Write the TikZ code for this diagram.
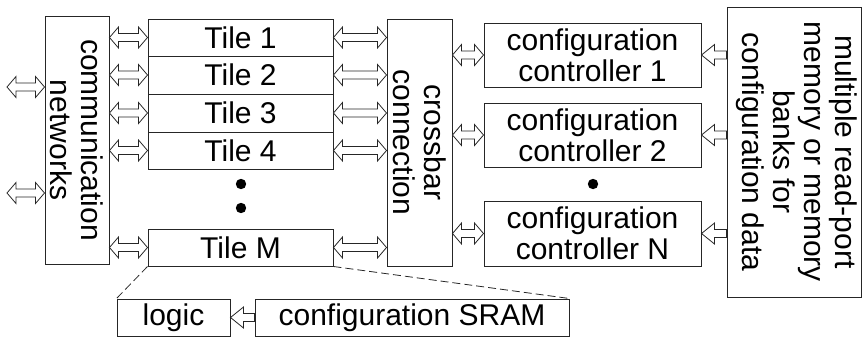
\documentclass[tikz,border=0pt]{standalone}
\usepackage{fontspec}
\setmainfont{Liberation Sans}
\usetikzlibrary{calc}
\tikzset{
  box/.style={draw=black!85, line width=1pt, rectangle, inner sep=0pt, fill=white},
  txt/.style={inner sep=0pt, align=center, font=\fontsize{30}{31}\selectfont},
  arr/.style={draw=black!85, line width=0.8pt, fill=white, line join=miter},
  dash/.style={}
}
\newcommand\dblar[2]{\path[arr] let \p1=(#1), \p2=(#2) in
 (\x1,\y1) -- (\x1+9pt,\y1+10.5pt) -- (\x1+9pt,\y1+4pt) -- (\x2-9pt,\y1+4pt) -- (\x2-9pt,\y1+10.5pt) -- (\x2,\y1) -- (\x2-9pt,\y1-10.5pt) -- (\x2-9pt,\y1-4pt) -- (\x1+9pt,\y1-4pt) -- (\x1+9pt,\y1-10.5pt) -- cycle;}
\newcommand\sglar[2]{\path[arr] let \p1=(#1), \p2=(#2) in
 (\x2,\y1) -- (\x2+13pt,\y1+10.5pt) -- (\x2+13pt,\y1+4pt) -- (\x1,\y1+4pt) -- (\x1,\y1-4pt) -- (\x2+13pt,\y1-4pt) -- (\x2+13pt,\y1-10.5pt) -- cycle;}
\begin{document}
\begin{tikzpicture}[x=1pt,y=-1pt]
\useasboundingbox (0,0) rectangle (862,338);
% communication networks
\node[box, minimum width=64pt, minimum height=248pt] (comm) at (77,140) {};
\node[txt, rotate=-90] (commt) at (comm.center) {communication\\networks};
% tiles
\node[box, minimum width=185pt, minimum height=37pt] (t1) at (240.5,37.5) {};
\node[box, minimum width=185pt, minimum height=38pt] (t2) at (240.5,75) {};
\node[box, minimum width=185pt, minimum height=38pt] (t3) at (240.5,113) {};
\node[box, minimum width=185pt, minimum height=37pt] (t4) at (240.5,150.5) {};
\node[box, minimum width=185pt, minimum height=37pt] (tm) at (240.5,247.5) {};
\node[txt] (t1t) at (t1.center) {Tile 1};
\node[txt] (t2t) at (t2.center) {Tile 2};
\node[txt] (t3t) at (t3.center) {Tile 3};
\node[txt] (t4t) at (t4.center) {Tile 4};
\node[txt] (tmt) at (tm.center) {Tile M};
\fill (241,184) circle (5.2);
\fill (241,208) circle (5.2);
% crossbar
\node[box, minimum width=65pt, minimum height=247pt] (xb) at (419.5,142.5) {};
\node[txt, rotate=-90] (xbt) at (xb.center) {crossbar\\connection};
% configuration controllers
\node[box, txt, draw=black!85, line width=1pt, minimum width=217pt, minimum height=64pt] (cc1) at (592.5,55) {configuration\\controller 1};
\node[box, txt, draw=black!85, line width=1pt, minimum width=217pt, minimum height=64pt] (cc2) at (592.5,135) {configuration\\controller 2};
\node[box, txt, draw=black!85, line width=1pt, minimum width=217pt, minimum height=65pt] (ccn) at (592.5,233.5) {configuration\\controller N};
\fill (593,184) circle (5.2);
% memory
\node[box, minimum width=134pt, minimum height=290pt] (mem) at (794,152) {};
\node[txt, rotate=-90] (memt) at ($(mem.center)+(3,0)$) {multiple read-port\\memory or memory\\banks for\\configuration data};
% logic and SRAM
\node[box, txt, draw=black!85, line width=1pt, minimum width=113pt, minimum height=37pt] (logic) at (173.5,317.5) {logic};
\node[box, txt, draw=black!85, line width=1pt, minimum width=314pt, minimum height=37pt] (sram) at (412,317.5) {configuration SRAM};
% dashed zoom lines
\draw[black!85, line width=0.8pt, dash pattern=on 8pt off 4pt] (tm.south west) -- (logic.north west);
\draw[black!85, line width=0.8pt, dash pattern=on 8pt off 4pt] (tm.south east) -- (sram.north east);
% external arrows
\coordinate (e1) at (7,87);
\coordinate (e2) at (7,193);
\dblar{e1}{comm.west |- e1}
\dblar{e2}{comm.west |- e2}
% comm to tiles
\foreach \t in {t1,t2,t3,t4,tm}{
  \dblar{comm.east |- \t.west}{\t.west}
  \dblar{\t.east}{xb.west |- \t.east}
}
% crossbar to controllers
\foreach \c in {cc1,cc2,ccn}{
  \dblar{xb.east |- \c.west}{\c.west}
  \sglar{mem.west |- \c.east}{\c.east}
}
% SRAM to logic
\sglar{sram.west}{logic.east}
\end{tikzpicture}
\end{document}
